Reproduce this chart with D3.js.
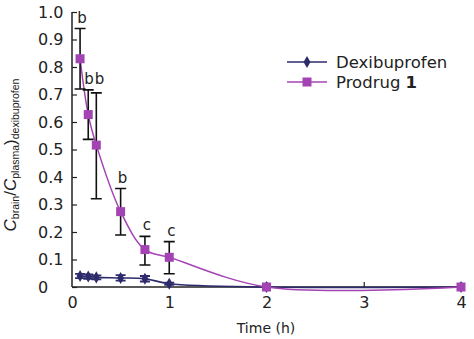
<!DOCTYPE html>
<html>
<head>
<meta charset="utf-8">
<script src="https://cdn.jsdelivr.net/npm/d3@7/dist/d3.min.js"></script>
<style>
  body { margin: 0; background: #fff; }
  svg { display: block; font-family: "DejaVu Sans", sans-serif; }
</style>
</head>
<body>
<svg id="chart" width="474" height="339"></svg>
<script>
// Sampling times (h)
const times = [0.083, 0.167, 0.25, 0.5, 0.75, 1, 2, 4];

// Brain/plasma ratio, mean and error
const dexiMean = [0.040, 0.038, 0.035, 0.033, 0.030, 0.012, 0, 0];
const dexiErr  = [0.008, 0.008, 0.007, 0.010, 0.010, 0.004, 0, 0];
const prodMean = [0.830, 0.627, 0.516, 0.274, 0.136, 0.108, 0, 0];
const prodErrUp  = [0.110, 0.090, 0.190, 0.084, 0.048, 0.057, 0, 0];
const prodErrLow = [0.110, 0.090, 0.195, 0.085, 0.056, 0.060, 0, 0];

// Significance letters per time point
const sigLabels = ["b", "b", "b", "b", "c", "c", "", ""];

const xTicks = [0, 1, 2, 3, 4];
const yTicks = [0, 0.1, 0.2, 0.3, 0.4, 0.5, 0.6, 0.7, 0.8, 0.9, 1.0];

const svg = d3.select("#chart");
const x = d3.scaleLinear().domain([0, 4]).range([72, 461]);
const y = d3.scaleLinear().domain([0, 1]).range([287, 12]);

const dexiColor = "#2d2b6b";
const prodColor = "#a443b4";
const axisColor = "#222";
const font = "DejaVu Sans, sans-serif";

// Axes with inward ticks
const yAxis = d3.axisLeft(y).tickValues(yTicks).tickSize(-5).tickFormat(d => d === 0 ? "0" : d3.format(".1f")(d));
const xAxis = d3.axisBottom(x).tickValues(xTicks).tickSize(-5).tickFormat(d3.format("d"));

const gy = svg.append("g").attr("transform", `translate(${x(0)},0)`).call(yAxis);
gy.select(".domain").attr("d", `M0,${y(1)}V${y(0)}`).attr("stroke", axisColor).attr("stroke-width", 1.5);
gy.selectAll(".tick line").attr("stroke", axisColor).attr("stroke-width", 1.2);
gy.selectAll(".tick text").attr("x", 38 - x(0)).attr("text-anchor", "start")
  .attr("font-size", 16).attr("fill", "#222").attr("font-family", font);

const gx = svg.append("g").attr("transform", `translate(0,${y(0)})`).call(xAxis);
gx.select(".domain").attr("d", `M${x(0)},0H${x(4)}`).attr("stroke", axisColor).attr("stroke-width", 1.5);
gx.selectAll(".tick line").attr("stroke", axisColor).attr("stroke-width", 1.2);
gx.selectAll(".tick").filter(d => d === 0).select("line").remove();
gx.selectAll(".tick text").attr("y", 10).attr("font-size", 16).attr("fill", "#222")
  .attr("font-family", font);

// Axis titles
svg.append("text").attr("x", 266).attr("y", 333).attr("text-anchor", "middle")
  .attr("font-size", 14).attr("fill", "#222").text("Time (h)");

const yt = svg.append("text").attr("transform", "translate(16,155) rotate(-90)")
  .attr("text-anchor", "middle").attr("font-size", 17).attr("fill", "#222")
  .attr("font-family", "Liberation Sans, Arial, sans-serif");
yt.append("tspan").attr("font-style", "italic").text("C");
yt.append("tspan").attr("font-size", 10.5).attr("dy", 3).text("brain");
yt.append("tspan").attr("font-size", 17).attr("dy", -3).text("/");
yt.append("tspan").attr("font-style", "italic").text("C");
yt.append("tspan").attr("font-size", 10.5).attr("dy", 3).text("plasma");
yt.append("tspan").attr("font-size", 17).attr("dy", -3).text(")");
yt.append("tspan").attr("font-size", 10.5).attr("dy", 3).text("dexibuprofen");

const dexi = times.map((t, i) => ({ t, v: dexiMean[i], lo: dexiMean[i] - dexiErr[i], hi: dexiMean[i] + dexiErr[i] }));
const prod = times.map((t, i) => ({ t, v: prodMean[i], lo: prodMean[i] - prodErrLow[i], hi: prodMean[i] + prodErrUp[i], s: sigLabels[i] }));

const line = d3.line().x(d => x(d.t)).y(d => y(d.v)).curve(d3.curveCatmullRom.alpha(0.5));

function errorBars(data, cap, color, width) {
  const g = svg.append("g").attr("stroke", color).attr("stroke-width", width).attr("fill", "none");
  data.filter(d => d.hi > d.lo).forEach(d => {
    const cx = x(d.t);
    g.append("path").attr("d",
      `M${cx},${y(d.lo)}V${y(d.hi)}M${cx - cap},${y(d.hi)}H${cx + cap}M${cx - cap},${y(d.lo)}H${cx + cap}`);
  });
}

// Dexibuprofen series
svg.append("path").datum(dexi).attr("d", line).attr("fill", "none").attr("stroke", dexiColor).attr("stroke-width", 1.6);
errorBars(dexi.slice(0, 6), 5, dexiColor, 1.8);
svg.append("g").selectAll("path").data(dexi).join("path")
  .attr("d", d3.symbol(d3.symbolDiamond, 42))
  .attr("transform", d => `translate(${x(d.t)},${y(d.v)})`)
  .attr("fill", dexiColor);

// Prodrug series
svg.append("path").datum(prod).attr("d", line).attr("fill", "none").attr("stroke", prodColor).attr("stroke-width", 1.5);
errorBars(prod, 5.5, "#111", 1.6);
svg.append("g").selectAll("rect").data(prod).join("rect")
  .attr("x", d => x(d.t) - 4.5).attr("y", d => y(d.v) - 4.5)
  .attr("width", 9).attr("height", 9).attr("fill", prodColor);

// Significance letters above the error caps; neighbours that would collide are spread apart
const letters = prod.filter(d => d.s).map(d => ({ s: d.s, lx: x(d.t) + 2, ly: y(d.hi) - 6 }));
const minGap = 10.5;
for (let i = 1; i < letters.length; i++) {
  const a = letters[i - 1], b = letters[i];
  const gap = b.lx - a.lx;
  if (gap < minGap && Math.abs(a.ly - b.ly) < 12) {
    const shift = (minGap - gap) / 2;
    a.lx -= shift; b.lx += shift;
    a.ly = b.ly = Math.min(a.ly, b.ly);
  }
}
svg.append("g").selectAll("text").data(letters).join("text")
  .attr("x", d => d.lx).attr("y", d => d.ly)
  .attr("text-anchor", "middle").attr("font-size", 15).attr("fill", "#222").text(d => d.s);

// Legend
const legend = svg.append("g").attr("transform", "translate(287,62)");
legend.append("line").attr("x1", 0).attr("x2", 40).attr("stroke", dexiColor).attr("stroke-width", 1.6);
legend.append("path").attr("d", d3.symbol(d3.symbolDiamond, 42)).attr("transform", "translate(20,0)").attr("fill", dexiColor);
legend.append("text").attr("x", 49).attr("y", 6).attr("font-size", 16.5).attr("fill", "#222").text("Dexibuprofen");
legend.append("line").attr("x1", 0).attr("x2", 40).attr("y1", 20).attr("y2", 20).attr("stroke", prodColor).attr("stroke-width", 1.5);
legend.append("rect").attr("x", 15.5).attr("y", 15.5).attr("width", 9).attr("height", 9).attr("fill", prodColor);
const lt = legend.append("text").attr("x", 49).attr("y", 26).attr("font-size", 16.5).attr("fill", "#222");
lt.append("tspan").text("Prodrug ");
lt.append("tspan").attr("font-weight", "bold").text("1");
</script>
</body>
</html>
